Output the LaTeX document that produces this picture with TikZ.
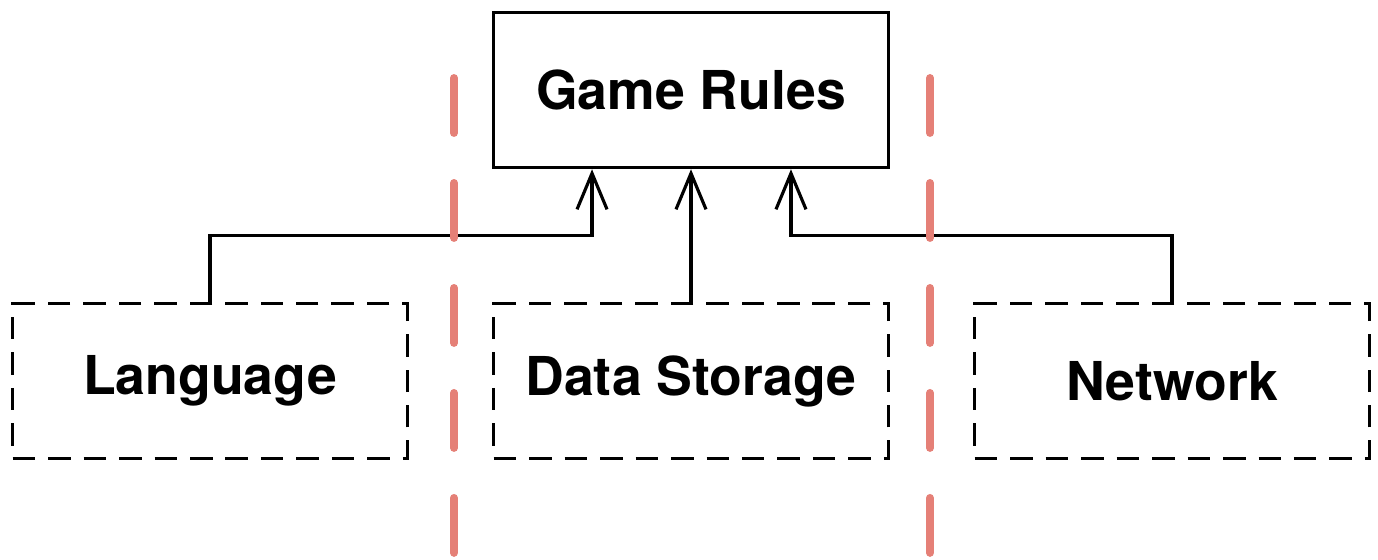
\documentclass[tikz,border=0pt]{standalone}
\usepackage{fontspec}
\setmainfont{TeX Gyre Heros}
\usetikzlibrary{arrows.meta,calc}
\definecolor{cutred}{RGB}{229,128,119}

\begin{document}
\begin{tikzpicture}[x=0.02cm, y=-0.02cm,
    layer/.style={draw, line width=2pt, minimum width=7.9cm, minimum height=3.1cm,
      font=\fontsize{30.5}{36}\selectfont\bfseries},
    service/.style={layer, dash pattern=on 0.45cm off 0.26cm},
    uses/.style={line width=1.8pt, -{Straight Barb[length=0.72cm, width=0.6cm, line width=1.8pt]}},
    boundary/.style={line width=4.5pt, line cap=round, color=cutred,
      dash pattern=on 1.1cm off 1.0cm}]
    \useasboundingbox (0,0) rectangle (1378,560);
    % core and the parts around it
    \node[layer] (rules) at (691,90) {Game Rules};
    \node[service] (lang) at (210,381) {Language};
    \node[service] (store) at (691,381) {Data Storage};
    \node[service] (net) at (1172,381) {Network};
    % dependencies point at the core
    \draw[uses] (lang.north) -- ++(0,-66) -| ([xshift=-1.98cm]rules.south);
    \draw[uses] (store.north) -- (rules.south);
    \draw[uses] (net.north) -- ++(0,-66) -| ([xshift=2cm]rules.south);
    % boundaries
    \draw[boundary] (454,78) -- (454,556);
    \draw[boundary] (930,78) -- (930,556);
  \end{tikzpicture}
\end{document}
